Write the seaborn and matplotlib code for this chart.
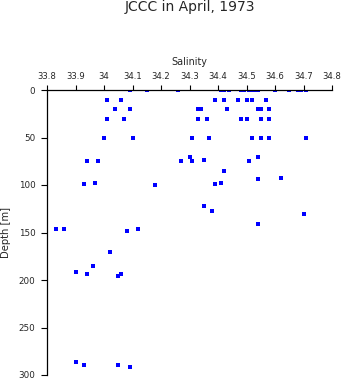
import matplotlib
matplotlib.use("Agg")
import matplotlib.pyplot as plt
import seaborn as sns
import pandas as pd

salinity = [
    34.09, 34.15, 34.26, 34.41, 34.42, 34.44, 34.48, 34.49, 34.51, 34.52, 34.53, 34.535, 34.54, 34.60, 34.65, 34.68, 34.69, 34.71,
    34.01, 34.06, 34.39, 34.42, 34.47, 34.50, 34.52, 34.57,
    34.04, 34.09, 34.33, 34.34, 34.43, 34.54, 34.55, 34.58,
    34.01, 34.07, 34.33, 34.36, 34.48, 34.50, 34.55, 34.58,
    34.00, 34.10, 34.31, 34.37, 34.52, 34.55, 34.58, 34.71,
    34.30, 34.54,
    33.94, 33.98, 34.27, 34.31, 34.51, 34.35,
    34.42, 34.62, 34.54,
    33.93, 33.97, 34.18, 34.39, 34.41,
    34.35, 34.38, 34.70, 34.54,
    33.83, 33.86, 34.12, 34.08,
    34.02, 33.96, 33.90, 33.94, 34.05, 34.06,
    33.90, 33.93, 34.05, 34.09,
]
depth = [
    0, 0, 0, 0, 0, 0, 0, 0, 0, 0, 0, 0, 0, 0, 0, 0, 0, 0,
    10, 10, 10, 10, 10, 10, 10, 10,
    20, 20, 20, 20, 20, 20, 20, 20,
    30, 30, 30, 30, 30, 30, 30, 30,
    50, 50, 50, 50, 50, 50, 50, 50,
    70, 70,
    75, 75, 75, 75, 75, 74,
    85, 93, 94,
    99, 98, 100, 99, 98,
    122, 127, 130, 141,
    146, 146, 146, 148,
    170, 185, 192, 194, 196, 194,
    286, 289, 289, 292,
]
x_ticks = [33.8, 33.9, 34.0, 34.1, 34.2, 34.3, 34.4, 34.5, 34.6, 34.7, 34.8]
x_tick_labels = ["33.8", "33.9", "34", "34.1", "34.2", "34.3", "34.4", "34.5", "34.6", "34.7", "34.8"]
y_ticks = [0, 50, 100, 150, 200, 250, 300]

df = pd.DataFrame({"Salinity": salinity, "Depth": depth})

sns.set_style("white")
plt.rcParams["font.family"] = ["DejaVu Sans"]

fig = plt.figure(figsize=(3.46, 3.84), dpi=100)
ax = fig.add_axes([47 / 346, 9 / 384, 285 / 346, 285 / 384])
sns.scatterplot(data=df, x="Salinity", y="Depth", ax=ax, marker="s", s=6,
                color="#0000ff", linewidth=0, legend=False)

ax.set_xlim(33.8, 34.8)
ax.set_ylim(300, 0)
ax.xaxis.tick_top()
ax.xaxis.set_label_position("top")
ax.set_xticks(x_ticks)
ax.set_xticklabels(x_tick_labels)
ax.set_yticks(y_ticks)
ax.set_xlabel("Salinity", fontsize=6.9, labelpad=5)
ax.set_ylabel("Depth [m]", fontsize=7.2)
ax.yaxis.set_label_coords(-0.128, 0.5)
ax.tick_params(axis="x", labelsize=6.1, length=3.6, width=0.8, color="black",
               direction="out", pad=3.2, top=True, bottom=False)
ax.tick_params(axis="y", labelsize=6.3, length=4.3, width=0.8, color="black",
               direction="out", pad=4, left=True, right=False)
for side in ["right", "bottom"]:
    ax.spines[side].set_visible(False)
for side in ["left", "top"]:
    ax.spines[side].set_color("black")
    ax.spines[side].set_linewidth(0.9)

fig.text((47 + 285 / 2) / 346, 1 - 7.5 / 384, "JCCC in April, 1973",
         ha="center", va="center", fontsize=10)

fig.savefig("out.png", dpi=100)
